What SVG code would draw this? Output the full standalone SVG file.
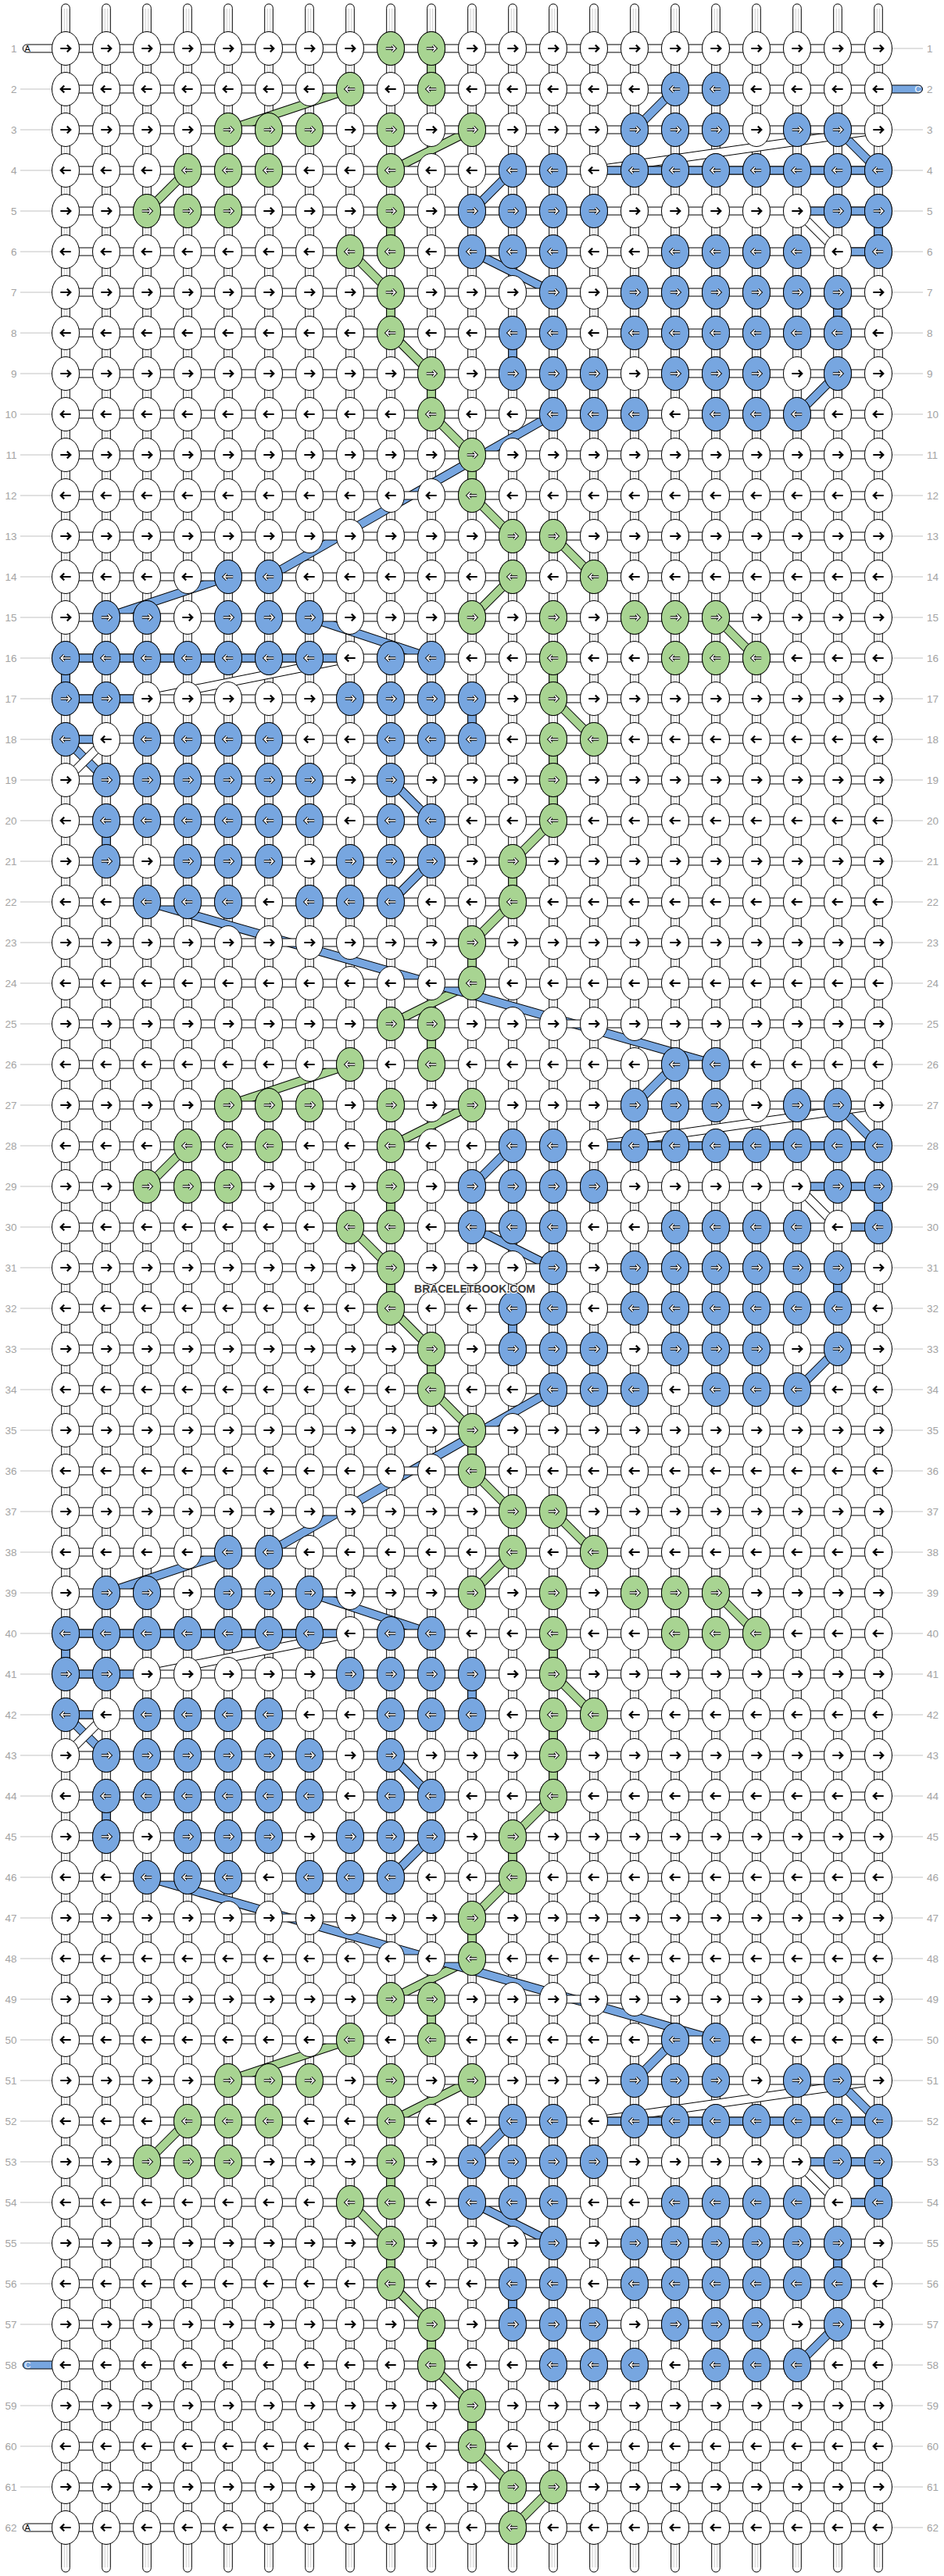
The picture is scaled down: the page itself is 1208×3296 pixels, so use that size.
<svg xmlns="http://www.w3.org/2000/svg" width="1208" height="3296" viewBox="0 0 1208 3296">
<style>
.k{stroke:#000;stroke-width:1}
.kw{fill:#fff}.kg{fill:#a8d492}.kb{fill:#77a6e0}
.ab{fill:none;stroke:#000;stroke-width:2.2}
.ao{fill:none;stroke:#000;stroke-width:3.4}
.ai{fill:none;stroke:#fff;stroke-width:1.5}
.o{fill:none;stroke:#000;stroke-width:11.6}
.g{fill:none;stroke:#a8d492;stroke-width:9.6}
.b{fill:none;stroke:#77a6e0;stroke-width:9.6}
.w{fill:none;stroke:#fff;stroke-width:9.6}
.vg{fill:#a8d492;stroke:#000}
.vb{fill:#77a6e0;stroke:#000}
.n{font-family:"Liberation Sans",Arial,sans-serif;font-size:13.5px;fill:#a3a3a3}
.nl{text-anchor:end}
.gl{fill:none;stroke:#c2c2c2;stroke-width:1}
.pl{font-family:"Liberation Sans",Arial,sans-serif;font-size:11px}
</style>
<defs>
<path id="ar" d="M-6.7 0H6M1.8-4.4L6.3 0L1.8 4.4"/>
<path id="al" d="M6.7 0H-6M-1.8-4.4L-6.3 0L-1.8 4.4"/>
<path id="ar2" d="M-6.2 0H5.6M1.9-3.9L5.8 0L1.9 3.9"/>
<path id="al2" d="M6.2 0H-5.6M-1.9-3.9L-5.8 0L-1.9 3.9"/>
<g id="a"><ellipse rx="17.5" ry="21.5" class="k kw"/><use href="#ar" class="ab"/></g>
<g id="b"><ellipse rx="17.5" ry="21.5" class="k kw"/><use href="#al" class="ab"/></g>
<g id="c"><ellipse rx="17.5" ry="21.5" class="k kg"/><use href="#ar2" class="ao"/><use href="#ar2" class="ai"/></g>
<g id="d"><ellipse rx="17.5" ry="21.5" class="k kg"/><use href="#al2" class="ao"/><use href="#al2" class="ai"/></g>
<g id="e"><ellipse rx="17.5" ry="21.5" class="k kb"/><use href="#ar2" class="ao"/><use href="#ar2" class="ai"/></g>
<g id="f"><ellipse rx="17.5" ry="21.5" class="k kb"/><use href="#al2" class="ao"/><use href="#al2" class="ai"/></g>
<g id="WR"><use href="#a" x="84"/><use href="#a" x="136"/><use href="#a" x="188"/><use href="#a" x="240"/><use href="#a" x="292"/><use href="#a" x="344"/><use href="#a" x="396"/><use href="#a" x="448"/><use href="#a" x="500"/><use href="#a" x="552"/><use href="#a" x="604"/><use href="#a" x="656"/><use href="#a" x="708"/><use href="#a" x="760"/><use href="#a" x="812"/><use href="#a" x="864"/><use href="#a" x="916"/><use href="#a" x="968"/><use href="#a" x="1020"/><use href="#a" x="1072"/><use href="#a" x="1124"/></g>
<g id="WL"><use href="#b" x="84"/><use href="#b" x="136"/><use href="#b" x="188"/><use href="#b" x="240"/><use href="#b" x="292"/><use href="#b" x="344"/><use href="#b" x="396"/><use href="#b" x="448"/><use href="#b" x="500"/><use href="#b" x="552"/><use href="#b" x="604"/><use href="#b" x="656"/><use href="#b" x="708"/><use href="#b" x="760"/><use href="#b" x="812"/><use href="#b" x="864"/><use href="#b" x="916"/><use href="#b" x="968"/><use href="#b" x="1020"/><use href="#b" x="1072"/><use href="#b" x="1124"/></g>
<g id="vs"><rect x="-5.3" y="5" width="10.6" height="3286" rx="5.3" fill="#fff" stroke="#000"/><path d="M-1.7 11V3285M1.7 11V3285" fill="none" stroke="#c8c8c8" stroke-width="0.9"/></g>
<rect id="hb" x="84" y="-5" width="1040" height="10" fill="#fff" stroke="#000"/>
<g id="VA"><rect class="vg" x="546.7" y="62" width="10.6" height="52"/><rect class="vg" x="494.7" y="270" width="10.6" height="52"/><rect class="vg" x="494.7" y="374" width="10.6" height="52"/><rect class="vg" x="546.7" y="478" width="10.6" height="52"/><rect class="vg" x="598.7" y="582" width="10.6" height="52"/><rect class="vb" x="1118.7" y="270" width="10.6" height="52"/><rect class="vb" x="1066.7" y="374" width="10.6" height="52"/><rect class="vb" x="650.7" y="426" width="10.6" height="52"/></g>
<g id="VB"><rect class="vg" x="702.7" y="842" width="10.6" height="52"/><rect class="vg" x="702.7" y="946" width="10.6" height="52"/><rect class="vg" x="702.7" y="998" width="10.6" height="52"/><rect class="vg" x="650.7" y="1102" width="10.6" height="52"/><rect class="vg" x="598.7" y="1206" width="10.6" height="52"/><rect class="vb" x="78.7" y="842" width="10.6" height="52"/><rect class="vb" x="598.7" y="894" width="10.6" height="52"/><rect class="vb" x="130.7" y="1050" width="10.6" height="52"/></g>
<path id="gA" d="M448 114L292 166M604 166L500 218M240 218L188 270M448 322L500 374M500 426L552 478M552 530L604 582M604 634L656 686"/>
<path id="gB" d="M708 686L760 738M656 738L604 790M916 790L968 842M708 894L760 946M708 1050L656 1102M656 1154L604 1206M604 1258L500 1310"/>
<path id="bA" d="M864 114L812 166M1072 166L1124 218M656 218L604 270M604 322L708 374M1072 478L1020 530"/>
<path id="bB" d="M708 530L344 738M292 738L136 790M396 790L552 842M84 946L136 998M500 998L552 1050M552 1102L500 1154M188 1154L916 1362"/>
<path id="wA" d="M1124 166L760 218M1020 270L1072 322"/>
<path id="wB" d="M448 842L188 894M136 946L84 998"/>
<path id="gS" d="M708 3182L656 3234"/>
<g id="BA"><use href="#gA" class="o"/><use href="#gA" class="g"/><use href="#bA" class="o"/><use href="#bA" class="b"/><use href="#wA" class="o"/><use href="#wA" class="w"/></g>
<g id="BB"><use href="#gB" class="o"/><use href="#gB" class="g"/><use href="#bB" class="o"/><use href="#bB" class="b"/><use href="#wB" class="o"/><use href="#wB" class="w"/></g>
<g id="HA"><rect class="vb" x="760" y="213" width="364" height="10"/><rect class="vb" x="1020" y="265" width="104" height="10"/><rect class="vb" x="1072" y="317" width="52" height="10"/></g>
<g id="HB"><rect class="vb" x="84" y="837" width="364" height="10"/><rect class="vb" x="84" y="889" width="104" height="10"/><rect class="vb" x="84" y="941" width="52" height="10"/></g>
</defs>
<rect width="1208" height="3296" fill="#fff"/>
<g id="connectors">
<g id="strings"><use href="#vs" x="84"/><use href="#vs" x="136"/><use href="#vs" x="188"/><use href="#vs" x="240"/><use href="#vs" x="292"/><use href="#vs" x="344"/><use href="#vs" x="396"/><use href="#vs" x="448"/><use href="#vs" x="500"/><use href="#vs" x="552"/><use href="#vs" x="604"/><use href="#vs" x="656"/><use href="#vs" x="708"/><use href="#vs" x="760"/><use href="#vs" x="812"/><use href="#vs" x="864"/><use href="#vs" x="916"/><use href="#vs" x="968"/><use href="#vs" x="1020"/><use href="#vs" x="1072"/><use href="#vs" x="1124"/></g>
<g id="vertical-colour"><use href="#VA"/><use href="#VB"/><use href="#VA" y="1248"/><use href="#VB" y="1248"/><use href="#VA" y="2496"/></g>
<g id="bands"><use href="#BA"/><use href="#BB"/><use href="#BA" y="1248"/><use href="#BB" y="1248"/><use href="#BA" y="2496"/><use href="#gS" class="o"/><use href="#gS" class="g"/></g>
<g id="row-strings"><use href="#hb" y="62"/><use href="#hb" y="114"/><use href="#hb" y="166"/><use href="#hb" y="218"/><use href="#hb" y="270"/><use href="#hb" y="322"/><use href="#hb" y="374"/><use href="#hb" y="426"/><use href="#hb" y="478"/><use href="#hb" y="530"/><use href="#hb" y="582"/><use href="#hb" y="634"/><use href="#hb" y="686"/><use href="#hb" y="738"/><use href="#hb" y="790"/><use href="#hb" y="842"/><use href="#hb" y="894"/><use href="#hb" y="946"/><use href="#hb" y="998"/><use href="#hb" y="1050"/><use href="#hb" y="1102"/><use href="#hb" y="1154"/><use href="#hb" y="1206"/><use href="#hb" y="1258"/><use href="#hb" y="1310"/><use href="#hb" y="1362"/><use href="#hb" y="1414"/><use href="#hb" y="1466"/><use href="#hb" y="1518"/><use href="#hb" y="1570"/><use href="#hb" y="1622"/><use href="#hb" y="1674"/><use href="#hb" y="1726"/><use href="#hb" y="1778"/><use href="#hb" y="1830"/><use href="#hb" y="1882"/><use href="#hb" y="1934"/><use href="#hb" y="1986"/><use href="#hb" y="2038"/><use href="#hb" y="2090"/><use href="#hb" y="2142"/><use href="#hb" y="2194"/><use href="#hb" y="2246"/><use href="#hb" y="2298"/><use href="#hb" y="2350"/><use href="#hb" y="2402"/><use href="#hb" y="2454"/><use href="#hb" y="2506"/><use href="#hb" y="2558"/><use href="#hb" y="2610"/><use href="#hb" y="2662"/><use href="#hb" y="2714"/><use href="#hb" y="2766"/><use href="#hb" y="2818"/><use href="#hb" y="2870"/><use href="#hb" y="2922"/><use href="#hb" y="2974"/><use href="#hb" y="3026"/><use href="#hb" y="3078"/><use href="#hb" y="3130"/><use href="#hb" y="3182"/><use href="#hb" y="3234"/></g>
<g id="row-colour"><use href="#HA"/><use href="#HB"/><use href="#HA" y="1248"/><use href="#HB" y="1248"/><use href="#HA" y="2496"/></g>
<g id="string-ends">
<rect x="29.3" y="57" width="45" height="10" rx="5" fill="#fff" stroke="#000"/>
<rect x="29.3" y="3229" width="45" height="10" rx="5" fill="#fff" stroke="#000"/>
<rect x="29.3" y="3021" width="45" height="10" rx="5" fill="#77a6e0" stroke="#000"/>
<rect x="1134" y="109" width="46.5" height="10" rx="5" fill="#77a6e0" stroke="#000"/>
</g>
<path class="gl" d="M26 114h40M26 166h40M26 218h40M26 270h40M26 322h40M26 374h40M26 426h40M26 478h40M26 530h40M26 582h40M26 634h40M26 686h40M26 738h40M26 790h40M26 842h40M26 894h40M26 946h40M26 998h40M26 1050h40M26 1102h40M26 1154h40M26 1206h40M26 1258h40M26 1310h40M26 1362h40M26 1414h40M26 1466h40M26 1518h40M26 1570h40M26 1622h40M26 1674h40M26 1726h40M26 1778h40M26 1830h40M26 1882h40M26 1934h40M26 1986h40M26 2038h40M26 2090h40M26 2142h40M26 2194h40M26 2246h40M26 2298h40M26 2350h40M26 2402h40M26 2454h40M26 2506h40M26 2558h40M26 2610h40M26 2662h40M26 2714h40M26 2766h40M26 2818h40M26 2870h40M26 2922h40M26 2974h40M26 3078h40M26 3130h40M26 3182h40"/>
<path class="gl" d="M1142 62h39M1142 166h39M1142 218h39M1142 270h39M1142 322h39M1142 374h39M1142 426h39M1142 478h39M1142 530h39M1142 582h39M1142 634h39M1142 686h39M1142 738h39M1142 790h39M1142 842h39M1142 894h39M1142 946h39M1142 998h39M1142 1050h39M1142 1102h39M1142 1154h39M1142 1206h39M1142 1258h39M1142 1310h39M1142 1362h39M1142 1414h39M1142 1466h39M1142 1518h39M1142 1570h39M1142 1622h39M1142 1674h39M1142 1726h39M1142 1778h39M1142 1830h39M1142 1882h39M1142 1934h39M1142 1986h39M1142 2038h39M1142 2090h39M1142 2142h39M1142 2194h39M1142 2246h39M1142 2298h39M1142 2350h39M1142 2402h39M1142 2454h39M1142 2506h39M1142 2558h39M1142 2610h39M1142 2662h39M1142 2714h39M1142 2766h39M1142 2818h39M1142 2870h39M1142 2922h39M1142 2974h39M1142 3026h39M1142 3078h39M1142 3130h39M1142 3182h39M1142 3234h39"/>
</g>
<g id="knots">
<g id="p1">
<g id="row-1" transform="translate(0,62)"><use href="#WR"/><use href="#c" x="500"/><use href="#c" x="552"/></g>
<g id="row-2" transform="translate(0,114)"><use href="#WL"/><use href="#d" x="448"/><use href="#d" x="552"/><use href="#f" x="864"/><use href="#f" x="916"/></g>
<g id="row-3" transform="translate(0,166)"><use href="#WR"/><use href="#c" x="292"/><use href="#c" x="344"/><use href="#c" x="396"/><use href="#c" x="500"/><use href="#c" x="604"/><use href="#e" x="812"/><use href="#e" x="864"/><use href="#e" x="916"/><use href="#e" x="1020"/><use href="#e" x="1072"/></g>
<g id="row-4" transform="translate(0,218)"><use href="#WL"/><use href="#d" x="240"/><use href="#d" x="292"/><use href="#d" x="344"/><use href="#d" x="500"/><use href="#f" x="656"/><use href="#f" x="708"/><use href="#f" x="812"/><use href="#f" x="864"/><use href="#f" x="916"/><use href="#f" x="968"/><use href="#f" x="1020"/><use href="#f" x="1072"/><use href="#f" x="1124"/></g>
<g id="row-5" transform="translate(0,270)"><use href="#WR"/><use href="#c" x="188"/><use href="#c" x="240"/><use href="#c" x="292"/><use href="#c" x="500"/><use href="#e" x="604"/><use href="#e" x="656"/><use href="#e" x="708"/><use href="#e" x="760"/><use href="#e" x="1072"/><use href="#e" x="1124"/></g>
<g id="row-6" transform="translate(0,322)"><use href="#WL"/><use href="#d" x="448"/><use href="#d" x="500"/><use href="#f" x="604"/><use href="#f" x="656"/><use href="#f" x="708"/><use href="#f" x="864"/><use href="#f" x="916"/><use href="#f" x="968"/><use href="#f" x="1020"/><use href="#f" x="1124"/></g>
<g id="row-7" transform="translate(0,374)"><use href="#WR"/><use href="#c" x="500"/><use href="#e" x="708"/><use href="#e" x="812"/><use href="#e" x="864"/><use href="#e" x="916"/><use href="#e" x="968"/><use href="#e" x="1020"/><use href="#e" x="1072"/></g>
<g id="row-8" transform="translate(0,426)"><use href="#WL"/><use href="#d" x="500"/><use href="#f" x="656"/><use href="#f" x="708"/><use href="#f" x="812"/><use href="#f" x="864"/><use href="#f" x="916"/><use href="#f" x="968"/><use href="#f" x="1020"/><use href="#f" x="1072"/></g>
<g id="row-9" transform="translate(0,478)"><use href="#WR"/><use href="#c" x="552"/><use href="#e" x="656"/><use href="#e" x="708"/><use href="#e" x="760"/><use href="#e" x="864"/><use href="#e" x="916"/><use href="#e" x="968"/><use href="#e" x="1072"/></g>
<g id="row-10" transform="translate(0,530)"><use href="#WL"/><use href="#d" x="552"/><use href="#f" x="708"/><use href="#f" x="760"/><use href="#f" x="812"/><use href="#f" x="916"/><use href="#f" x="968"/><use href="#f" x="1020"/></g>
<g id="row-11" transform="translate(0,582)"><use href="#WR"/><use href="#c" x="604"/></g>
<g id="row-12" transform="translate(0,634)"><use href="#WL"/><use href="#d" x="604"/></g>
<g id="row-13" transform="translate(0,686)"><use href="#WR"/><use href="#c" x="656"/><use href="#c" x="708"/></g>
<g id="row-14" transform="translate(0,738)"><use href="#WL"/><use href="#f" x="292"/><use href="#f" x="344"/><use href="#d" x="656"/><use href="#d" x="760"/></g>
<g id="row-15" transform="translate(0,790)"><use href="#WR"/><use href="#e" x="136"/><use href="#e" x="188"/><use href="#e" x="292"/><use href="#e" x="344"/><use href="#e" x="396"/><use href="#c" x="604"/><use href="#c" x="708"/><use href="#c" x="812"/><use href="#c" x="864"/><use href="#c" x="916"/></g>
<g id="row-16" transform="translate(0,842)"><use href="#WL"/><use href="#f" x="84"/><use href="#f" x="136"/><use href="#f" x="188"/><use href="#f" x="240"/><use href="#f" x="292"/><use href="#f" x="344"/><use href="#f" x="396"/><use href="#f" x="500"/><use href="#f" x="552"/><use href="#d" x="708"/><use href="#d" x="864"/><use href="#d" x="916"/><use href="#d" x="968"/></g>
<g id="row-17" transform="translate(0,894)"><use href="#WR"/><use href="#e" x="84"/><use href="#e" x="136"/><use href="#e" x="448"/><use href="#e" x="500"/><use href="#e" x="552"/><use href="#e" x="604"/><use href="#c" x="708"/></g>
<g id="row-18" transform="translate(0,946)"><use href="#WL"/><use href="#f" x="84"/><use href="#f" x="188"/><use href="#f" x="240"/><use href="#f" x="292"/><use href="#f" x="344"/><use href="#f" x="500"/><use href="#f" x="552"/><use href="#f" x="604"/><use href="#d" x="708"/><use href="#d" x="760"/></g>
<g id="row-19" transform="translate(0,998)"><use href="#WR"/><use href="#e" x="136"/><use href="#e" x="188"/><use href="#e" x="240"/><use href="#e" x="292"/><use href="#e" x="344"/><use href="#e" x="396"/><use href="#e" x="500"/><use href="#c" x="708"/></g>
<g id="row-20" transform="translate(0,1050)"><use href="#WL"/><use href="#f" x="136"/><use href="#f" x="188"/><use href="#f" x="240"/><use href="#f" x="292"/><use href="#f" x="344"/><use href="#f" x="396"/><use href="#f" x="500"/><use href="#f" x="552"/><use href="#d" x="708"/></g>
<g id="row-21" transform="translate(0,1102)"><use href="#WR"/><use href="#e" x="136"/><use href="#e" x="240"/><use href="#e" x="292"/><use href="#e" x="344"/><use href="#e" x="448"/><use href="#e" x="500"/><use href="#e" x="552"/><use href="#c" x="656"/></g>
<g id="row-22" transform="translate(0,1154)"><use href="#WL"/><use href="#f" x="188"/><use href="#f" x="240"/><use href="#f" x="292"/><use href="#f" x="396"/><use href="#f" x="448"/><use href="#f" x="500"/><use href="#d" x="656"/></g>
<g id="row-23" transform="translate(0,1206)"><use href="#WR"/><use href="#c" x="604"/></g>
<g id="row-24" transform="translate(0,1258)"><use href="#WL"/><use href="#d" x="604"/></g>
</g>
<use href="#p1" y="1248"/>
<use href="#row-1" y="2496"/><use href="#row-2" y="2496"/><use href="#row-3" y="2496"/><use href="#row-4" y="2496"/><use href="#row-5" y="2496"/><use href="#row-6" y="2496"/><use href="#row-7" y="2496"/><use href="#row-8" y="2496"/><use href="#row-9" y="2496"/><use href="#row-10" y="2496"/><use href="#row-11" y="2496"/><use href="#row-12" y="2496"/><use href="#row-13" y="2496"/>
<g id="row-62" transform="translate(0,3234)"><use href="#WL"/><use href="#d" x="656"/></g>
</g>
<g id="labels">
<text class="pl" x="31.5" y="65.8">A</text>
<text class="pl" x="31.5" y="3237.8">A</text>
<text class="pl" x="31.5" y="3029.8" fill="#fff">C</text>
<text class="pl" x="1170.5" y="117.8" fill="#fff">C</text>
<g class="n nl">
<text x="21.5" y="67">1</text><text x="21.5" y="119">2</text><text x="21.5" y="171">3</text><text x="21.5" y="223">4</text><text x="21.5" y="275">5</text><text x="21.5" y="327">6</text><text x="21.5" y="379">7</text><text x="21.5" y="431">8</text><text x="21.5" y="483">9</text><text x="21.5" y="535">10</text><text x="21.5" y="587">11</text><text x="21.5" y="639">12</text><text x="21.5" y="691">13</text><text x="21.5" y="743">14</text><text x="21.5" y="795">15</text><text x="21.5" y="847">16</text><text x="21.5" y="899">17</text><text x="21.5" y="951">18</text><text x="21.5" y="1003">19</text><text x="21.5" y="1055">20</text><text x="21.5" y="1107">21</text><text x="21.5" y="1159">22</text><text x="21.5" y="1211">23</text><text x="21.5" y="1263">24</text><text x="21.5" y="1315">25</text><text x="21.5" y="1367">26</text><text x="21.5" y="1419">27</text><text x="21.5" y="1471">28</text><text x="21.5" y="1523">29</text><text x="21.5" y="1575">30</text><text x="21.5" y="1627">31</text><text x="21.5" y="1679">32</text><text x="21.5" y="1731">33</text><text x="21.5" y="1783">34</text><text x="21.5" y="1835">35</text><text x="21.5" y="1887">36</text><text x="21.5" y="1939">37</text><text x="21.5" y="1991">38</text><text x="21.5" y="2043">39</text><text x="21.5" y="2095">40</text><text x="21.5" y="2147">41</text><text x="21.5" y="2199">42</text><text x="21.5" y="2251">43</text><text x="21.5" y="2303">44</text><text x="21.5" y="2355">45</text><text x="21.5" y="2407">46</text><text x="21.5" y="2459">47</text><text x="21.5" y="2511">48</text><text x="21.5" y="2563">49</text><text x="21.5" y="2615">50</text><text x="21.5" y="2667">51</text><text x="21.5" y="2719">52</text><text x="21.5" y="2771">53</text><text x="21.5" y="2823">54</text><text x="21.5" y="2875">55</text><text x="21.5" y="2927">56</text><text x="21.5" y="2979">57</text><text x="21.5" y="3031">58</text><text x="21.5" y="3083">59</text><text x="21.5" y="3135">60</text><text x="21.5" y="3187">61</text><text x="21.5" y="3239">62</text>
</g>
<g class="n">
<text x="1186" y="67">1</text><text x="1186" y="119">2</text><text x="1186" y="171">3</text><text x="1186" y="223">4</text><text x="1186" y="275">5</text><text x="1186" y="327">6</text><text x="1186" y="379">7</text><text x="1186" y="431">8</text><text x="1186" y="483">9</text><text x="1186" y="535">10</text><text x="1186" y="587">11</text><text x="1186" y="639">12</text><text x="1186" y="691">13</text><text x="1186" y="743">14</text><text x="1186" y="795">15</text><text x="1186" y="847">16</text><text x="1186" y="899">17</text><text x="1186" y="951">18</text><text x="1186" y="1003">19</text><text x="1186" y="1055">20</text><text x="1186" y="1107">21</text><text x="1186" y="1159">22</text><text x="1186" y="1211">23</text><text x="1186" y="1263">24</text><text x="1186" y="1315">25</text><text x="1186" y="1367">26</text><text x="1186" y="1419">27</text><text x="1186" y="1471">28</text><text x="1186" y="1523">29</text><text x="1186" y="1575">30</text><text x="1186" y="1627">31</text><text x="1186" y="1679">32</text><text x="1186" y="1731">33</text><text x="1186" y="1783">34</text><text x="1186" y="1835">35</text><text x="1186" y="1887">36</text><text x="1186" y="1939">37</text><text x="1186" y="1991">38</text><text x="1186" y="2043">39</text><text x="1186" y="2095">40</text><text x="1186" y="2147">41</text><text x="1186" y="2199">42</text><text x="1186" y="2251">43</text><text x="1186" y="2303">44</text><text x="1186" y="2355">45</text><text x="1186" y="2407">46</text><text x="1186" y="2459">47</text><text x="1186" y="2511">48</text><text x="1186" y="2563">49</text><text x="1186" y="2615">50</text><text x="1186" y="2667">51</text><text x="1186" y="2719">52</text><text x="1186" y="2771">53</text><text x="1186" y="2823">54</text><text x="1186" y="2875">55</text><text x="1186" y="2927">56</text><text x="1186" y="2979">57</text><text x="1186" y="3031">58</text><text x="1186" y="3083">59</text><text x="1186" y="3135">60</text><text x="1186" y="3187">61</text><text x="1186" y="3239">62</text>
</g>
<text x="607.5" y="1653.5" text-anchor="middle" textLength="155" lengthAdjust="spacingAndGlyphs" style="font-family:'Liberation Sans',Arial,sans-serif;font-weight:bold;font-size:15px;fill:#3a3a3a;stroke:#fff;stroke-width:2;paint-order:stroke">BRACELETBOOK.COM</text>
</g>
</svg>
